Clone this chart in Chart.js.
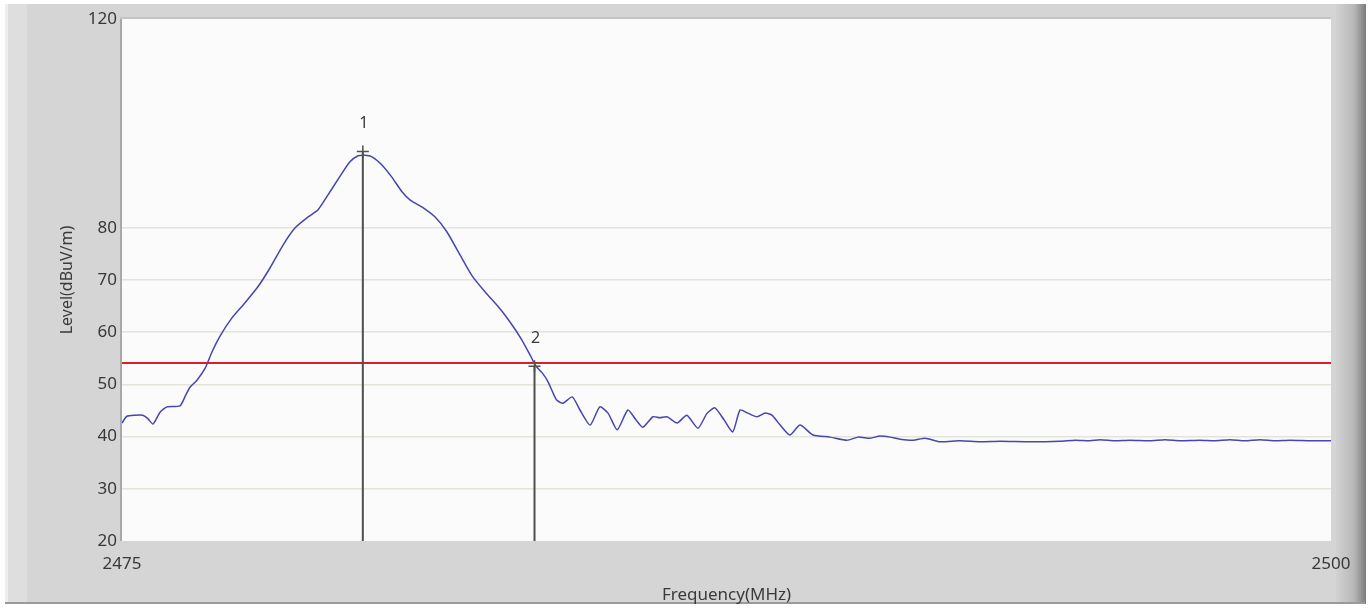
<!DOCTYPE html>
<html><head><meta charset="utf-8">
<script src="https://cdn.jsdelivr.net/npm/chart.js@4"></script>
<style>html,body{margin:0;padding:0;background:#fff;}canvas{display:block;}</style>
</head><body>
<canvas id="c" width="1372" height="608" style="width:1372px;height:608px"></canvas>
<script>
const freqs = [2475.00,2475.10,2475.27,2475.43,2475.54,2475.64,2475.79,2475.93,2476.20,2476.32,2476.41,2476.55,2476.72,2476.86,2477.03,2477.27,2477.54,2477.81,2478.06,2478.33,2478.58,2478.85,2479.05,2479.26,2479.51,2479.71,2479.88,2480.02,2480.17,2480.38,2480.58,2480.79,2480.96,2481.20,2481.47,2481.72,2481.99,2482.24,2482.51,2482.77,2483.02,2483.27,2483.44,2483.56,2483.69,2483.81,2483.95,2483.99,2484.12,2484.31,2484.47,2484.68,2484.88,2485.05,2485.24,2485.46,2485.63,2485.77,2485.98,2486.12,2486.27,2486.48,2486.68,2486.91,2487.10,2487.26,2487.45,2487.63,2487.78,2487.94,2488.13,2488.30,2488.44,2488.61,2488.81,2489.02,2489.29,2489.64,2489.99,2490.22,2490.47,2490.67,2490.88,2491.09,2491.36,2491.61,2491.91,2492.33,2492.74,2493.16,2493.78,2494.40,2494.71,2495.02,2495.22,2495.53,2495.84,2496.26,2496.57,2496.88,2497.29,2497.60,2497.91,2498.22,2498.53,2498.84,2499.15,2499.57,2500.00];
const levels = [42.6,43.9,44.1,44.1,43.4,42.4,44.7,45.7,45.9,48.0,49.5,50.8,53.1,56.2,59.3,62.7,65.6,68.7,72.3,76.7,80.0,82.1,83.4,86.3,89.9,92.6,93.8,93.9,93.6,92.0,89.7,86.9,85.3,84.0,82.1,79.2,74.8,70.8,67.7,65.0,62.0,58.5,55.6,53.5,52.2,50.5,47.6,47.0,46.4,47.6,45.1,42.2,45.7,44.5,41.3,45.1,43.2,41.8,43.8,43.6,43.8,42.6,44.1,41.6,44.5,45.5,43.2,40.9,45.1,44.5,43.8,44.5,44.1,42.2,40.3,42.2,40.3,39.9,39.3,39.9,39.7,40.1,39.9,39.5,39.3,39.7,39.0,39.2,39.0,39.1,39.0,39.1,39.3,39.2,39.4,39.2,39.3,39.2,39.4,39.2,39.3,39.2,39.4,39.2,39.4,39.2,39.3,39.2,39.2];
const limitLevel = 54.1;
const markerFreqs = [2479.98, 2483.53];
const markerLevels = [94.6, 53.5];
const markerNames = ['1', '2'];
const xTickValues = [2475, 2500];
const yHiddenTicks = [90, 100, 110];
const yGridValues = [30, 40, 50, 60, 70, 80];

const FONT = '"Noto Sans", "Open Sans", Arial, sans-serif';
const trace = freqs.map((f, i) => ({x: f, y: levels[i]}));
const datasets = [
  {data: trace, borderColor: '#4646ae', borderWidth: 1.5, pointRadius: 0, tension: 0.2, order: 3},
  {data: [{x: xTickValues[0], y: limitLevel}, {x: xTickValues[1], y: limitLevel}], borderColor: '#d8202c', borderWidth: 2, pointRadius: 0, order: 2}
];
markerFreqs.forEach((f, i) => {
  datasets.push({data: [{x: f, y: 20}, {x: f, y: markerLevels[i]}], borderColor: '#505050', borderWidth: 2,
    pointRadius: [0, 6], pointStyle: 'cross', pointBorderColor: '#505050', pointBorderWidth: 1.5, order: 1});
});

const framePlugin = {
  id: 'frame',
  beforeDraw(chart) {
    const ctx = chart.ctx, W = chart.width, H = chart.height;
    ctx.save();
    ctx.fillStyle = '#ffffff'; ctx.fillRect(0, 0, W, H);
    ctx.fillStyle = '#d5d5d5'; ctx.fillRect(5, 4, W - 12, H - 8);
    ctx.fillStyle = '#eeeeee'; ctx.fillRect(5, 4, 3, H - 8);
    ctx.fillStyle = '#dedede'; ctx.fillRect(8, 4, 19, H - 8);
    const g = ctx.createLinearGradient(1336, 0, 1366, 0);
    g.addColorStop(0, '#d2d2d2'); g.addColorStop(0.6, '#b8b8b8'); g.addColorStop(1, '#7c7c7c');
    ctx.fillStyle = g; ctx.fillRect(1336, 4, 30, H - 8);
    ctx.fillStyle = '#9a9a9a'; ctx.fillRect(5, H - 6, W - 12, 2);
    const a = chart.chartArea;
    ctx.fillStyle = '#fbfbfb'; ctx.fillRect(a.left, a.top, a.right - a.left, a.bottom - a.top);
    ctx.fillStyle = '#a8a8a8'; ctx.fillRect(a.left - 2, a.top - 1, 2, a.bottom - a.top + 1);
    ctx.fillStyle = '#c4c4c4'; ctx.fillRect(a.left - 2, a.top - 2, a.right - a.left + 2, 2);
    ctx.restore();
  },
  afterDatasetsDraw(chart) {
    const ctx = chart.ctx, xs = chart.scales.x, ys = chart.scales.y;
    ctx.save();
    ctx.fillStyle = '#3a3a3a';
    ctx.font = '16px ' + FONT;
    ctx.textAlign = 'center'; ctx.textBaseline = 'middle';
    markerFreqs.forEach((f, i) => {
      ctx.fillText(markerNames[i], xs.getPixelForValue(f) + 1, ys.getPixelForValue(markerLevels[i]) - 28);
    });
    ctx.restore();
  }
};

new Chart(document.getElementById('c'), {
  type: 'line',
  data: {datasets},
  options: {
    responsive: false, animation: false,
    layout: {padding: {left: 56, right: 41, top: 19, bottom: 0}},
    plugins: {legend: {display: false}, tooltip: {enabled: false}},
    scales: {
      x: {
        type: 'linear', min: 2475, max: 2500,
        afterBuildTicks: s => { s.ticks = xTickValues.map(v => ({value: v})); },
        afterFit: s => { s.height = 67; },
        grid: {display: false, drawTicks: false},
        border: {display: false},
        ticks: {padding: 13, color: '#383838', maxRotation: 0, autoSkip: false,
          callback: v => String(v),
          font: {size: 17, family: FONT}},
        title: {display: true, text: 'Frequency(MHz)', color: '#3a3a3a', padding: {top: 0, bottom: 3},
          font: {size: 17, family: FONT}}
      },
      y: {
        type: 'linear', min: 20, max: 120,
        afterFit: s => { s.width = 66; },
        ticks: {stepSize: 10, padding: 5, color: '#383838',
          callback: v => yHiddenTicks.includes(v) ? '' : String(v),
          font: {size: 17, family: FONT}},
        grid: {drawTicks: false, lineWidth: 1.5,
          color: c => yGridValues.includes(c.tick.value) ? '#e3e5db' : 'rgba(0,0,0,0)'},
        border: {display: false},
        title: {display: true, text: 'Level(dBuV/m)', color: '#3a3a3a', padding: {top: 2, bottom: 4},
          font: {size: 16, family: FONT}}
      }
    }
  },
  plugins: [framePlugin]
});
</script>
</body></html>
